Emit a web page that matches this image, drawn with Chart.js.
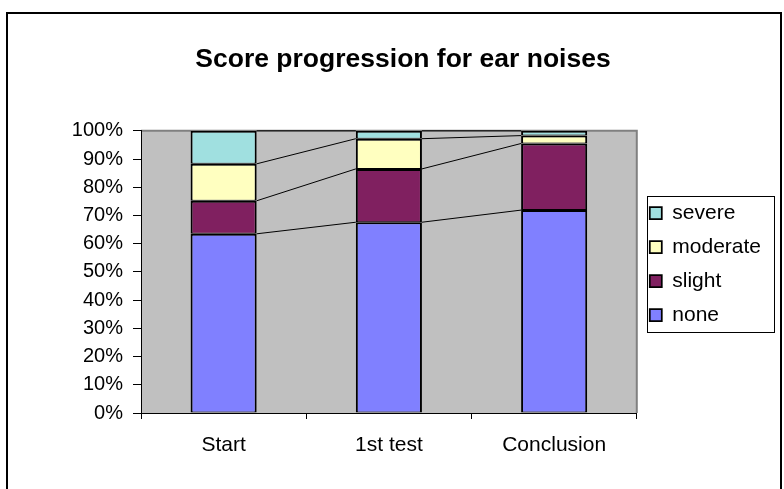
<!DOCTYPE html>
<html>
<head>
<meta charset="utf-8">
<script src="https://cdn.jsdelivr.net/npm/chart.js@4.4.1/dist/chart.umd.min.js"></script>
<style>
  html, body { margin: 0; padding: 0; background: #fff; }
  canvas { display: block; }
</style>
</head>
<body>
<canvas id="earChart" width="784" height="489"></canvas>
<script>
// values, in percent of each column
const categories = ['Start', '1st test', 'Conclusion'];
const none = [63.5, 67.6, 71.9];
const slight = [11.7, 18.9, 23.6];
const moderate = [13.1, 10.7, 2.8];
const severe = [11.7, 2.8, 1.7];

const FONT = 'Arial, "Liberation Sans", sans-serif';

// white page, excel style outer frame and grey plot area
const frame = {
  id: 'frame',
  beforeDraw(chart) {
    const c = chart.ctx, a = chart.chartArea;
    c.save();
    c.fillStyle = '#fff';
    c.fillRect(0, 0, chart.width, chart.height);
    c.strokeStyle = '#000';
    c.lineWidth = 2;
    c.strokeRect(7, 13, 774, 500);
    c.fillStyle = '#c0c0c0';
    c.fillRect(a.left, a.top, a.right - a.left, a.bottom - a.top);
    c.strokeStyle = '#808080';
    c.lineWidth = 2;
    c.beginPath();
    c.moveTo(a.left, a.top);
    c.lineTo(a.right, a.top);
    c.lineTo(a.right, a.bottom);
    c.stroke();
    c.restore();
  }
};

// series lines joining the tops of the segments
const seriesLines = {
  id: 'seriesLines',
  afterDatasetsDraw(chart) {
    const c = chart.ctx;
    c.save();
    c.strokeStyle = '#000';
    c.lineWidth = 1;
    chart.data.datasets.forEach((ds, d) => {
      const bars = chart.getDatasetMeta(d).data;
      for (let i = 0; i < bars.length - 1; i++) {
        const a = bars[i], b = bars[i + 1];
        c.beginPath();
        c.moveTo(a.x + a.width / 2, a.y);
        c.lineTo(b.x - b.width / 2, b.y);
        c.stroke();
      }
    });
    c.restore();
  }
};

// box round the legend
const legendBox = {
  id: 'legendBox',
  afterDraw(chart) {
    const hb = chart.legend.legendHitBoxes;
    if (!hb || !hb.length) return;
    const left = Math.min(...hb.map(h => h.left)) - 3;
    const right = Math.max(...hb.map(h => h.left + h.width)) + 13;
    const top = Math.min(...hb.map(h => h.top)) - 7;
    const bottom = Math.max(...hb.map(h => h.top + h.height)) + 6;
    const c = chart.ctx;
    c.save();
    c.strokeStyle = '#000';
    c.lineWidth = 1;
    c.strokeRect(Math.round(left) + 0.5, Math.round(top) + 0.5, Math.round(right - left), Math.round(bottom - top));
    c.restore();
  }
};

const seg = (label, data, color) => ({
  label: label,
  data: data,
  backgroundColor: color,
  borderColor: '#000',
  borderWidth: { top: 2, bottom: 1, left: 2, right: 2 },
  borderSkipped: false,
  categoryPercentage: 1,
  barPercentage: 0.4
});

new Chart(document.getElementById('earChart'), {
  type: 'bar',
  data: {
    labels: categories,
    datasets: [
      seg('none', none, '#8080ff'),
      seg('slight', slight, '#802060'),
      seg('moderate', moderate, '#ffffc0'),
      seg('severe', severe, '#a0e0e0')
    ]
  },
  options: {
    responsive: false,
    animation: false,
    layout: { padding: { left: 35, right: 13, top: 39, bottom: 0 } },
    plugins: {
      title: {
        display: true,
        text: 'Score progression for ear noises',
        color: '#000',
        font: { family: FONT, size: 26.5, weight: 'bold' },
        padding: { top: 5, bottom: 55 }
      },
      legend: {
        position: 'right',
        reverse: true,
        labels: {
          color: '#000',
          boxWidth: 12,
          boxHeight: 12,
          padding: 13,
          font: { family: FONT, size: 21 }
        }
      },
      tooltip: { enabled: false }
    },
    scales: {
      x: {
        stacked: true,
        afterFit: (s) => { s.height = 76; },
        grid: { drawOnChartArea: false, color: '#000', tickLength: 6 },
        border: { color: '#000', width: 1 },
        ticks: { color: '#000', padding: 14, font: { family: FONT, size: 21 } }
      },
      y: {
        stacked: true,
        min: 0,
        max: 100,
        afterFit: (s) => { s.width = 106; },
        grid: { drawOnChartArea: false, color: '#000', tickLength: 8 },
        border: { color: '#000', width: 1 },
        ticks: {
          stepSize: 10,
          color: '#000',
          padding: 10,
          font: { family: FONT, size: 20 },
          callback: (v) => v + '%'
        }
      }
    }
  },
  plugins: [frame, seriesLines, legendBox]
});
</script>
</body>
</html>
